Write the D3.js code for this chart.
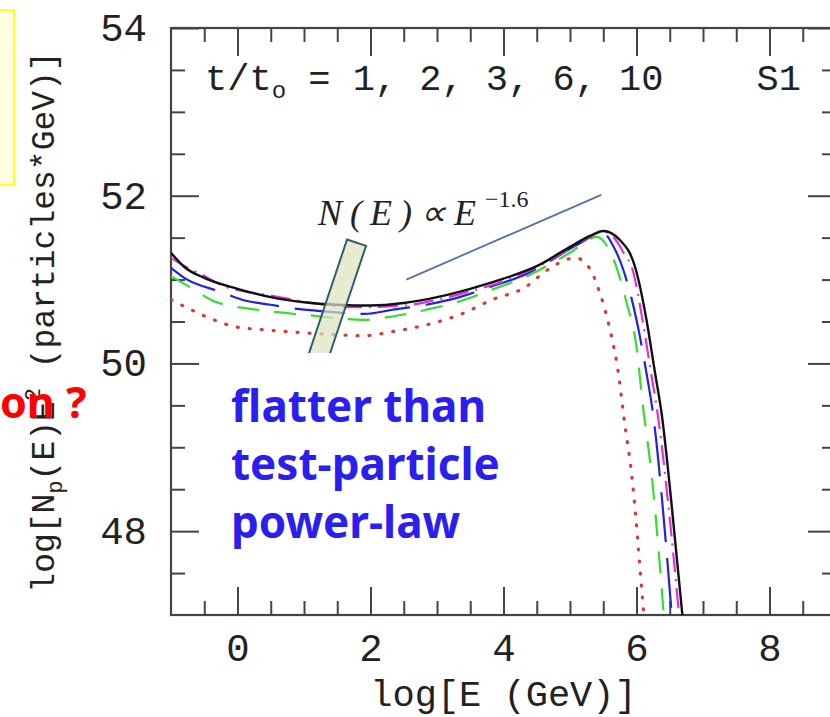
<!DOCTYPE html>
<html lang="en">
<head>
<meta charset="utf-8">
<script src="https://cdn.jsdelivr.net/npm/d3@7"></script>
<style>
  body { margin: 0; background: #fff; }
  svg { display: block; }
  .tick text { font-family: "Liberation Mono", monospace; font-size: 39px; fill: #222; }
  .tick line { stroke: #444; stroke-width: 2; }
  .mono { font-family: "Liberation Mono", monospace; fill: #222; white-space: pre; }
</style>
</head>
<body>
<div id="chart"></div>
<script>
// log E (GeV) / log[N_p(E) E^2], one pair per epoch t/t0
const logE_t1  = [-1.0, -0.8, -0.45, -0.05, 0.41, 0.9, 1.31, 1.91, 2.33, 2.84, 3.34, 3.83, 4.35, 4.6, 4.84, 5.08, 5.29, 5.44, 5.59, 5.74, 5.8, 5.94, 6.09, 6.11];
const logN_t1  = [50.76, 50.68, 50.55, 50.44, 50.40, 50.37, 50.35, 50.33, 50.38, 50.46, 50.58, 50.76, 50.92, 51.08, 51.20, 51.26, 51.14, 50.86, 50.44, 49.81, 49.42, 48.58, 47.19, 47.0];

const logE_t2  = [-1.0, -0.69, -0.35, 0.3, 1.01, 1.91, 2.33, 2.84, 3.34, 3.83, 4.35, 5.0, 5.4, 5.64, 5.85, 6.0, 6.09, 6.24, 6.41];
const logN_t2  = [51.04, 50.90, 50.74, 50.64, 50.58, 50.52, 50.56, 50.64, 50.74, 50.88, 51.04, 51.32, 51.51, 51.27, 50.73, 50.20, 49.54, 48.58, 47.0];

const logE_t3  = [-1.0, -0.8, -0.24, 0.11, 0.5, 0.9, 1.31, 1.91, 2.33, 2.84, 3.34, 3.83, 4.35, 4.65, 5.14, 5.49, 5.65, 5.8, 6.0, 6.14, 6.26, 6.37, 6.53];
const logN_t3  = [51.14, 51.02, 50.85, 50.75, 50.70, 50.65, 50.62, 50.59, 50.64, 50.70, 50.79, 50.92, 51.07, 51.20, 51.43, 51.56, 51.40, 51.12, 50.52, 49.93, 49.33, 48.50, 47.0];

const logE_t6  = [-1.0, -0.84, -0.54, -0.2, 0.11, 0.56, 1.05, 1.76, 2.5, 3.0, 3.5, 4.0, 4.5, 5.0, 5.3, 5.5, 5.68, 5.82, 5.94, 6.09, 6.21, 6.33, 6.47, 6.64];
const logN_t6  = [51.26, 51.18, 51.06, 50.92, 50.86, 50.80, 50.73, 50.67, 50.69, 50.76, 50.86, 50.98, 51.15, 51.37, 51.51, 51.57, 51.48, 51.30, 51.12, 50.52, 49.93, 49.33, 48.38, 47.0];

const logE_t10 = [-1.0, -0.8, -0.5, 0.0, 0.5, 1.0, 1.5, 2.0, 2.5, 3.0, 3.5, 4.0, 4.5, 5.0, 5.3, 5.5, 5.74, 5.99, 6.15, 6.27, 6.39, 6.52, 6.69];
const logN_t10 = [51.32, 51.15, 51.02, 50.89, 50.79, 50.73, 50.70, 50.69, 50.72, 50.79, 50.89, 51.01, 51.16, 51.39, 51.52, 51.58, 51.48, 51.12, 50.52, 49.93, 49.33, 48.38, 47.0];

const xTicks = [0, 2, 4, 6, 8];
const yTicks = [48, 50, 52, 54];
const epochs = ["1", "2", "3", "6", "10"];

// E^-1.6 guide line and the shaded band (data coords)
const guideE = [2.54, 5.47], guideN = [51.0, 52.01];
const bandE  = [1.79, 1.14], bandN  = [51.44, 49.9];

const W = 830, H = 717;
const svg = d3.select("#chart").append("svg")
  .attr("width", W).attr("height", H);

const x = d3.scaleLinear().domain([-1, 9]).range([171, 836]);
const y = d3.scaleLinear().domain([47, 54]).range([615, 28]);

// yellow box peeking in at top left
svg.append("rect")
  .attr("x", -10).attr("y", 10).attr("width", 24).attr("height", 175)
  .attr("fill", "#ffffe0").attr("stroke", "#ffff20").attr("stroke-width", 2);

svg.append("clipPath").attr("id", "plotclip")
  .append("rect")
  .attr("x", x(-1)).attr("y", y(54))
  .attr("width", x(9) - x(-1)).attr("height", y(47) - y(54));

// axes: minor ticks every 0.5, major every 2, all pointing inward
const minorX = d3.range(-0.5, 9, 0.5).filter(v => v % 2 !== 0);
const minorY = d3.range(47.5, 54, 0.5).filter(v => v % 2 !== 0);

function strip(g) { g.select(".domain").remove(); }

svg.append("g").attr("transform", "translate(0," + y(47) + ")")
  .call(d3.axisBottom(x).tickValues(minorX).tickSize(-14).tickFormat("")).call(strip);
svg.append("g").attr("transform", "translate(0," + y(47) + ")")
  .call(d3.axisBottom(x).tickValues(xTicks).tickSize(-28).tickPadding(18).tickFormat(d3.format("d"))).call(strip);
svg.append("g").attr("transform", "translate(0," + y(54) + ")")
  .call(d3.axisTop(x).tickValues(minorX).tickSize(-14).tickFormat("")).call(strip);
svg.append("g").attr("transform", "translate(0," + y(54) + ")")
  .call(d3.axisTop(x).tickValues(xTicks).tickSize(-28).tickFormat("")).call(strip);

svg.append("g").attr("transform", "translate(" + x(-1) + ",0)")
  .call(d3.axisLeft(y).tickValues(minorY).tickSize(-14).tickFormat("")).call(strip);
svg.append("g").attr("transform", "translate(" + x(-1) + ",0)")
  .call(d3.axisLeft(y).tickValues(yTicks).tickSize(-28).tickPadding(24).tickFormat(d3.format("d"))).call(strip);
svg.append("g").attr("transform", "translate(" + x(9) + ",0)")
  .call(d3.axisRight(y).tickValues(minorY).tickSize(-14).tickFormat("")).call(strip);
svg.append("g").attr("transform", "translate(" + x(9) + ",0)")
  .call(d3.axisRight(y).tickValues(yTicks).tickSize(-28).tickFormat("")).call(strip);

svg.append("rect")
  .attr("x", x(-1)).attr("y", y(54))
  .attr("width", x(9) - x(-1)).attr("height", y(47) - y(54))
  .attr("fill", "none").attr("stroke", "#444").attr("stroke-width", 2.2);

// curves
const series = [
  {e: logE_t1,  n: logN_t1,  color: "#d83a3a", dash: "1,11",        width: 3.2, cap: "round"},
  {e: logE_t2,  n: logN_t2,  color: "#33dd33", dash: "22,15",       width: 2.2, cap: "butt"},
  {e: logE_t3,  n: logN_t3,  color: "#2020e6", dash: "50,16",       width: 2.2, cap: "butt"},
  {e: logE_t6,  n: logN_t6,  color: "#e030e0", dash: "20,7,2,7",    width: 2.2, cap: "butt"},
  {e: logE_t10, n: logN_t10, color: "#111111", dash: null,          width: 2.4, cap: "butt"}
];

const line = d3.line()
  .x(d => x(d[0])).y(d => y(d[1]))
  .curve(d3.curveMonotoneX);

const curves = svg.append("g").attr("clip-path", "url(#plotclip)");
series.forEach(s => {
  curves.append("path")
    .datum(d3.zip(s.e, s.n))
    .attr("d", line)
    .attr("fill", "none")
    .attr("stroke", s.color)
    .attr("stroke-width", s.width)
    .attr("stroke-linecap", s.cap)
    .attr("stroke-dasharray", s.dash);
});

// E^-1.6 guide line
svg.append("line")
  .attr("x1", x(guideE[0])).attr("y1", y(guideN[0]))
  .attr("x2", x(guideE[1])).attr("y2", y(guideN[1]))
  .attr("stroke", "#4f73a8").attr("stroke-width", 1.8);

// shaded band across the curves
const bx0 = x(bandE[0]), by0 = y(bandN[0]), bx1 = x(bandE[1]), by1 = y(bandN[1]);
const len = Math.hypot(bx1 - bx0, by1 - by0), hw = 10;
const px = -(by1 - by0) / len * hw, py = (bx1 - bx0) / len * hw;
svg.append("polygon")
  .attr("points", [[bx0 + px, by0 + py], [bx0 - px, by0 - py], [bx1 - px, by1 - py], [bx1 + px, by1 + py]].join(" "))
  .attr("fill", "#dde2bc").attr("fill-opacity", 0.7)
  .attr("stroke", "#2f5f6f").attr("stroke-width", 2);

// white patch behind the blue comment
svg.append("rect")
  .attr("x", 208).attr("y", 353).attr("width", 352).attr("height", 213)
  .attr("fill", "#fff");

const note = svg.append("text")
  .attr("font-family", "'Noto Sans', 'Noto Sans CJK KR', sans-serif")
  .attr("font-weight", "bold").attr("font-size", 44).attr("fill", "#2b1ef0");
["flatter than", "test-particle", "power-law"].forEach((t, i) => {
  note.append("tspan").attr("x", 231).attr("y", 422 + i * 58).text(t);
});

// N(E) ∝ E^-1.6
svg.append("text")
  .attr("x", 318).attr("y", 225)
  .attr("font-family", "'Liberation Serif', serif").attr("font-style", "italic")
  .attr("font-size", 36).attr("letter-spacing", 8).attr("fill", "#222")
  .text("N(E)\u221DE");
svg.append("text")
  .attr("x", 485).attr("y", 207)
  .attr("font-family", "'Liberation Serif', serif")
  .attr("font-size", 24).attr("fill", "#222")
  .text("\u22121.6");

// t/t0 label and panel name
const tl = svg.append("text").attr("class", "mono")
  .attr("x", 205).attr("y", 90).attr("font-size", 37);
tl.append("tspan").text("t/t");
tl.append("tspan").attr("font-size", 24).attr("dy", 8).text("o");
tl.append("tspan").attr("dy", -8).text(" = " + epochs.join(", "));

svg.append("text").attr("class", "mono")
  .attr("x", 801).attr("y", 90).attr("font-size", 37)
  .attr("text-anchor", "end").text("S1");

// axis titles
svg.append("text").attr("class", "mono")
  .attr("x", (x(2) + x(6)) / 2).attr("y", 706).attr("font-size", 37)
  .attr("text-anchor", "middle").text("log[E (GeV)]");

const yl = svg.append("text").attr("class", "mono")
  .attr("transform", "translate(54,322) rotate(-90)")
  .attr("font-size", 33).attr("text-anchor", "middle");
yl.append("tspan").text("log[N");
yl.append("tspan").attr("font-size", 22).attr("dy", 8).text("p");
yl.append("tspan").attr("dy", -8).text("(E)E");
yl.append("tspan").attr("font-size", 22).attr("dy", -14).text("2");
yl.append("tspan").attr("dy", 14).text(" (particles*GeV)]");

// red remark at the left edge
svg.append("text")
  .attr("x", 0).attr("y", 418)
  .attr("font-family", "'Noto Sans', sans-serif").attr("font-weight", "bold")
  .attr("font-size", 43).attr("fill", "#ff0000")
  .text("on ?");
</script>
</body>
</html>
